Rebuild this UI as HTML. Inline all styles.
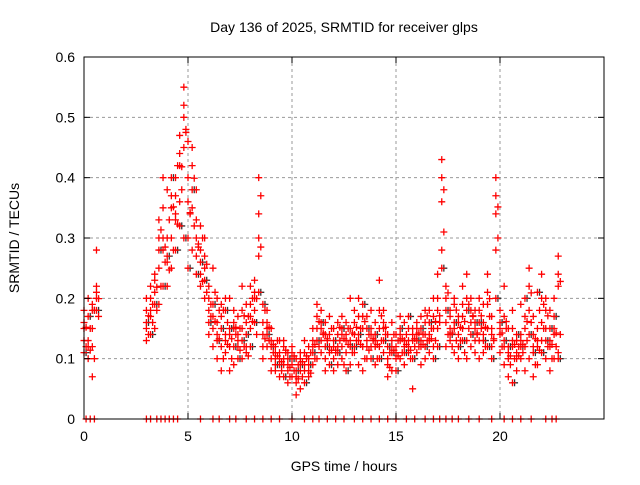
<!DOCTYPE html>
<html><head><meta charset="utf-8"><style>
body{margin:0;background:#fff}
svg text{font-family:"Liberation Sans",sans-serif;font-size:14px;fill:#000}
</style></head><body>
<svg id="chart" width="640" height="480" xmlns="http://www.w3.org/2000/svg">
<rect width="640" height="480" fill="#fff"/>
<text x="344" y="32" text-anchor="middle">Day 136 of 2025, SRMTID for receiver glps</text>
<text x="344" y="471" text-anchor="middle">GPS time / hours</text>
<text transform="translate(19,238) rotate(-90)" text-anchor="middle">SRMTID / TECUs</text>
<g id="grid"></g><g id="marks"></g>
<rect x="84" y="57" width="520" height="362" fill="none" stroke="#000" stroke-width="1"/>
<g id="ticks"></g>
</svg>
<script>
const xTicks=[0,5,10,15,20,25];
const xTickLabels=["0","5","10","15","20",""];
const yTicks=[0,0.1,0.2,0.3,0.4,0.5,0.6];
const yTickLabels=["0","0.1","0.2","0.3","0.4","0.5","0.6"];
const times=[0,0.2,0.4,0.6,0.8,1,1.2,1.4,1.6,1.8,2,2.2,2.4,2.6,2.8,3,3.2,3.4,3.6,3.8,4,4.2,4.4,4.6,4.8,5,5.2,5.4,5.6,5.8,6,6.2,6.4,6.6,6.8,7,7.2,7.4,7.6,7.8,8,8.2,8.4,8.6,8.8,9,9.2,9.4,9.6,9.8,10,10.2,10.4,10.6,10.8,11,11.2,11.4,11.6,11.8,12,12.2,12.4,12.6,12.8,13,13.2,13.4,13.6,13.8,14,14.2,14.4,14.6,14.8,15,15.2,15.4,15.6,15.8,16,16.2,16.4,16.6,16.8,17,17.2,17.4,17.6,17.8,18,18.2,18.4,18.6,18.8,19,19.2,19.4,19.6,19.8,20,20.2,20.4,20.6,20.8,21,21.2,21.4,21.6,21.8,22,22.2,22.4,22.6,22.8];
const N=null;
const seriesA=[.13,.10,.12,.20,N, N,N,N,N,N, N,N,N,N,N, .15,.18,.21,.25,.28, .30,.35,.40,.42,.52, .40,.45,.33,.28,.25, .18,.15,.20,.12,.14, .12,.18,.14,.10,.16, .22,.18,.40,.16,.15, .10,.08,.13,.09,.11, .09,.06,.11,.08,.10, .12,.15,.18,.10,.14, .10,.14,.12,.16,.13, .14,.17,.12,.10,.15, .12,.23,.15,.10,.08, .10,.13,.12,.15,.05, .14,.12,.16,.13,.15, .24,.43,.20,.18,.15, .14,.19,.24,.12,.18, .20,.14,.24,.12,.40, .18,.12,.10,.15,.08, .10,.15,.25,.12,.09, .24,.15,.12,.20,.27];
const seriesB=[.18,.20,.15,.22,N, N,N,N,N,N, N,N,N,N,N, .20,.22,.15,.30,.35, .38,.25,.33,.47,.45, .30,.35,.38,.22,.30, .22,.12,.10,.17,.20, .20,.09,.13,.15,.12, .15,.23,.34,.12,.18, .15,.12,.07,.10,.08, .12,.04,.08,.13,.07, .09,.19,.13,.16,.11, .15,.09,.17,.11,.20, .11,.20,.15,.13,.18, .16,.12,.11,.14,.13, .14,.17,.09,.11,.13, .11,.17,.10,.18,.12, .15,.36,.16,.13,.20, .10,.15,.13,.20,.13, .13,.19,.15,.17,.34, .14,.22,.07,.12,.13, .14,.08,.18,.17,.13, .13,.10,.18,.14,.22];
const seriesC=[.15,.13,.07,.28,N, N,N,N,N,N, N,N,N,N,N, .13,.17,.24,.19,.40, .22,.30,.37,.36,.55, .46,.28,.27,.32,.20, .14,.25,.16,.08,.11, .08,.15,.17,.22,.19, .19,.20,.27,.10,.12, .08,.10,.11,.13,.06, .07,.10,.05,.09,.12, .15,.10,.11,.08,.17, .08,.12,.10,.14,.09, .18,.09,.08,.17,.12, .09,.15,.18,.07,.16, .12,.10,.16,.13,.15, .16,.09,.14,.11,.20, .20,.28,.12,.17,.11, .17,.22,.10,.16,.11, .10,.11,.19,.15,.28, .11,.09,.15,.18,.10, .19,.12,.10,.07,.15, .16,.20,.08,.10,.11];
const seriesD=[.11,.17,.18,.18,N, N,N,N,N,N, N,N,N,N,N, .16,.14,.19,.28,.22, .27,.40,.28,.32,.30, .25,.38,.24,.26,.23, .16,.19,.13,.15,.18, .15,.12,.10,.13,.14, .12,.16,.21,.19,.14, .12,.09,.09,.07,.10, .10,.08,.09,.06,.09, .11,.13,.16,.12,.09, .13,.11,.15,.08,.12, .12,.14,.19,.15,.10, .14,.10,.13,.12,.11, .08,.15,.11,.17,.10, .13,.15,.12,.16,.10, .12,.25,.18,.14,.16, .12,.13,.18,.14,.16, .16,.13,.12,.10,.20, .16,.13,.12,.06,.14, .12,.20,.14,.11,.21, .11,.13,.15,.17,.10];
const seriesE=[.16,.12,.19,.21,N, N,N,N,N,N, N,N,N,N,N, .18,.20,.23,.33,.30, .26,.37,.34,.44,.50, .36,.42,.30,.24,.27, .20,.17,.14,.19,.13, .14,.16,.12,.18,.11, .17,.21,.30,.14,.16, .13,.11,.10,.12,.09, .11,.07,.10,.11,.08, .13,.17,.15,.14,.12, .12,.16,.14,.13,.15, .16,.13,.17,.12,.14, .13,.18,.16,.09,.12, .11,.14,.13,.12,.14, .15,.13,.18,.14,.17, .18,.40,.22,.15,.19, .16,.17,.20,.18,.15, .18,.16,.21,.14,.37, .15,.17,.11,.13,.11, .13,.17,.22,.14,.12, .20,.18,.13,.15,.24];
const seriesF=[.12,.15,.10,.17,N, N,N,N,N,N, N,N,N,N,N, .14,.16,.18,.22,.26, .33,.28,.42,.38,.48, .34,.32,.29,.30,.21, .17,.21,.18,.10,.16, .10,.14,.15,.12,.17, .20,.14,.37,.18,.13, .11,.13,.08,.11,.07, .08,.09,.07,.10,.11, .10,.12,.14,.13,.15, .11,.13,.09,.15,.11, .13,.15,.10,.14,.13, .10,.13,.14,.11,.14, .13,.11,.14,.10,.12, .12,.14,.13,.15,.13, .16,.31,.14,.12,.13, .13,.11,.15,.17,.14, .15,.12,.17,.13,.30, .12,.15,.09,.10,.12, .11,.13,.16,.09,.18, .15,.12,.10,.12,.14];
const zeroTimes=[0.1,0.3,0.5,3.0,3.2,3.5,3.7,3.9,4.1,4.3,4.5,5.6,6.2,6.5,7.0,7.3,7.8,8.2,8.6,9.0,9.4,10.0,10.6,11.0,11.3,11.7,12.1,12.5,13.0,13.4,13.8,14.2,14.6,15.0,15.5,15.9,16.4,16.8,17.1,17.4,17.7,18.0,18.5,19.0,19.6,20.2,20.6,21.0,21.5,22.2,22.5,22.7];
const X0=84,X1=604,Y0=419,Y1=57;
const xs=t=>X0+(t/25)*(X1-X0);
const ys=v=>Y0-(v/0.6)*(Y0-Y1);
const NS="http://www.w3.org/2000/svg";
const grid=document.getElementById('grid'),marks=document.getElementById('marks'),ticks=document.getElementById('ticks');
function mk(tag,attrs,parent){const e=document.createElementNS(NS,tag);for(const k in attrs)e.setAttribute(k,attrs[k]);parent.appendChild(e);return e;}
xTicks.forEach((t,i)=>{
  const x=xs(t);
  if(i>0&&i<xTicks.length-1){const g=mk('line',{x1:x,x2:x,y1:Y1,y2:Y0,stroke:'#999','stroke-dasharray':'3,3'},grid);
  
  }
  mk('line',{x1:x,x2:x,y1:Y0,y2:Y0-6,stroke:'#000'},ticks);
  mk('line',{x1:x,x2:x,y1:Y1,y2:Y1+6,stroke:'#000'},ticks);
  const l=mk('text',{x:x,y:Y0+22,'text-anchor':'middle'},ticks);l.textContent=xTickLabels[i];
  
  
});
yTicks.forEach((v,i)=>{
  const y=ys(v);
  if(i>0&&i<yTicks.length-1){const g=mk('line',{x1:X0,x2:X1,y1:y,y2:y,stroke:'#999','stroke-dasharray':'3,3'},grid);
  
  }
  mk('line',{x1:X0,x2:X0+6,y1:y,y2:y,stroke:'#000'},ticks);
  mk('line',{x1:X1,x2:X1-6,y1:y,y2:y,stroke:'#000'},ticks);
  const l=mk('text',{x:X0-9,y:y+5,'text-anchor':'end'},ticks);l.textContent=yTickLabels[i];
  
  
});
function plus(t,v,color,name){
  const x=xs(t),y=ys(v);
  const p=mk('path',{d:`M${x-3.5},${y}h7M${x},${y-3.5}v7`,stroke:color,'stroke-width':1.3,fill:'none'},marks);
  
  
}
times.forEach((t,i)=>{if(seriesD[i]!==null)plus(t+0.1,seriesD[i],'#333','black-point');});
times.forEach((t,i)=>{if(seriesF[i]!==null)plus(t+0.1,seriesF[i],'#f00','red-point');});
times.forEach((t,i)=>{if(seriesE[i]!==null)plus(t+0.1,seriesE[i]*0.95,'#f00','red-point');});
[seriesA,seriesB,seriesC,seriesD,seriesE].forEach(s=>times.forEach((t,i)=>{if(s[i]!==null)plus(t,s[i],'#f00','red-point');}));
zeroTimes.forEach(t=>plus(t,0,'#f00','zero-point'));
</script>
</body></html>
